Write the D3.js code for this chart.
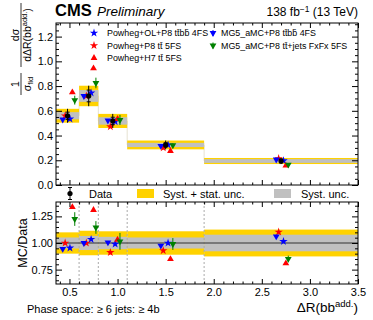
<!DOCTYPE html>
<html>
<head>
<meta charset="utf-8">
<script src="https://cdn.jsdelivr.net/npm/d3@7"></script>
<style>
  body { margin: 0; background: #fff; }
  svg { display: block; font-family: "Liberation Sans", Arial, Helvetica, sans-serif; }
</style>
</head>
<body>
<svg id="chart" width="373" height="320"></svg>
<script>
// bins of Delta R(bb add.)
const binEdges = [0.36, 0.6, 0.8, 1.1, 1.9, 3.5];
const binCenters = [0.48, 0.7, 0.95, 1.5, 2.7];
// measured normalised cross section
const dataVals = [0.56, 0.72, 0.518, 0.324, 0.194];
// relative uncertainties
const relTotUnc = [0.10, 0.115, 0.11, 0.11, 0.126];
const relSystUnc = [0.052, 0.066, 0.058, 0.052, 0.078];
// predictions
const mcOLttbb = [0.534, 0.745, 0.513, 0.324, 0.197];
const mcP8tt = [0.56, 0.72, 0.472, 0.301, 0.214];
const mcH7tt = [0.749, 0.943, 0.534, 0.275, 0.157];
const mcMGttbb = [0.529, 0.72, 0.521, 0.316, 0.206];
const mcMGttbbErr = [0.006, 0.01, 0.006, 0.004, 0.003];
const mcFxFx = [0.686, 0.825, 0.526, 0.321, 0.165];
const mcFxFxErr = [0.036, 0.043, 0.041, 0.018, 0.006];
// tick labels
const yTicks = [0, 0.2, 0.4, 0.6, 0.8, 1.0, 1.2];
const rTicks = [0.75, 1.0, 1.25];
const xTicks = [0.5, 1.0, 1.5, 2.0, 2.5, 3.0, 3.5];

const svg = d3.select("#chart");
const L = 56, R = 358, T = 23, MID = 185, RT = 202, B = 284;

const x = d3.scaleLinear().domain([0.36, 3.5]).range([L, R]);
const y = d3.scaleLinear().domain([0, 1.31]).range([MID, T]);
const yr = d3.scaleLinear().domain([0.615, 1.385]).range([B, RT]);

const YELLOW = "#ffd200", GRAY = "#c0c0c0";

const series = [
  {name: "Powheg+OL+P8 tt\u0304bb\u0304 4FS", vals: mcOLttbb, color: "#0000ff", shape: d3.symbolStar, rot: 0, off: 0.025, size: 22},
  {name: "Powheg+P8 tt\u0304 5FS", vals: mcP8tt, color: "#ff0000", shape: d3.symbolStar, rot: 0, off: -0.025, size: 22},
  {name: "Powheg+H7 tt\u0304 5FS", vals: mcH7tt, color: "#ff0000", shape: d3.symbolTriangle, rot: 0, off: 0.05, size: 20},
  {name: "MG5_aMC+P8 tt\u0304bb\u0304 4FS", vals: mcMGttbb, err: mcMGttbbErr, color: "#0000ff", shape: d3.symbolTriangle, rot: 180, off: -0.05, size: 20},
  {name: "MG5_aMC+P8 tt\u0304+jets FxFx 5FS", vals: mcFxFx, err: mcFxFxErr, color: "#008000", shape: d3.symbolTriangle, rot: 180, off: 0.075, size: 20}
];

const bins = dataVals.map((v, i) => ({
  lo: binEdges[i], hi: binEdges[i + 1], c: binCenters[i], v: v,
  tot: relTotUnc[i], syst: relSystUnc[i]
}));

// ---------- top panel ----------
const upper = svg.append("g");

// light step outline
const stepPts = [];
bins.forEach(b => { stepPts.push([x(b.lo), y(b.v)]); stepPts.push([x(b.hi), y(b.v)]); });
upper.append("path")
  .attr("d", d3.line()(stepPts))
  .attr("fill", "none").attr("stroke", "#e6e2d2").attr("stroke-width", 1);

upper.selectAll(".tot").data(bins).enter().append("rect")
  .attr("x", d => x(d.lo)).attr("width", d => x(d.hi) - x(d.lo))
  .attr("y", d => y(d.v * (1 + d.tot))).attr("height", d => y(d.v * (1 - d.tot)) - y(d.v * (1 + d.tot)))
  .attr("fill", YELLOW);
upper.selectAll(".syst").data(bins).enter().append("rect")
  .attr("x", d => x(d.lo)).attr("width", d => x(d.hi) - x(d.lo))
  .attr("y", d => y(d.v * (1 + d.syst))).attr("height", d => y(d.v * (1 - d.syst)) - y(d.v * (1 + d.syst)))
  .attr("fill", GRAY);

function drawMarkers(g, yScale, ratio) {
  series.forEach(s => {
    s.vals.forEach((v, i) => {
      const val = ratio ? v / dataVals[i] : v;
      const cx = x(binCenters[i] + s.off), cy = yScale(val);
      if (s.err) {
        const e = ratio ? s.err[i] / dataVals[i] : s.err[i];
        g.append("line").attr("x1", cx).attr("x2", cx)
          .attr("y1", yScale(val + e)).attr("y2", yScale(val - e))
          .attr("stroke", s.color).attr("stroke-width", 1);
      }
      g.append("path")
        .attr("d", d3.symbol().type(s.shape).size(s.size)())
        .attr("transform", `translate(${cx},${cy}) rotate(${s.rot})`)
        .attr("fill", s.color);
    });
  });
}
drawMarkers(upper, y, false);

// data points
const dp = upper.selectAll(".dp").data(bins).enter().append("g");
dp.append("line")
  .attr("x1", d => x(d.c)).attr("x2", d => x(d.c))
  .attr("y1", d => y(d.v * (1 + d.tot))).attr("y2", d => y(d.v * (1 - d.tot)))
  .attr("stroke", "#000").attr("stroke-width", 1);
[1, -1].forEach(sg => {
  dp.append("line")
    .attr("x1", d => x(d.c) - 2).attr("x2", d => x(d.c) + 2)
    .attr("y1", d => y(d.v * (1 + sg * d.syst))).attr("y2", d => y(d.v * (1 + sg * d.syst)))
    .attr("stroke", "#000").attr("stroke-width", 1);
});
dp.append("circle").attr("cx", d => x(d.c)).attr("cy", d => y(d.v)).attr("r", 2.6).attr("fill", "#000");

// ---------- ratio panel ----------
const rat = svg.append("g");
rat.selectAll(".tot").data(bins).enter().append("rect")
  .attr("x", d => x(d.lo)).attr("width", d => x(d.hi) - x(d.lo))
  .attr("y", d => yr(1 + d.tot)).attr("height", d => yr(1 - d.tot) - yr(1 + d.tot))
  .attr("fill", YELLOW);
rat.selectAll(".syst").data(bins).enter().append("rect")
  .attr("x", d => x(d.lo)).attr("width", d => x(d.hi) - x(d.lo))
  .attr("y", d => yr(1 + d.syst)).attr("height", d => yr(1 - d.syst) - yr(1 + d.syst))
  .attr("fill", GRAY);
rat.selectAll(".edge").data(binEdges.slice(1, -1)).enter().append("line")
  .attr("x1", d => x(d)).attr("x2", d => x(d)).attr("y1", RT).attr("y2", B)
  .attr("stroke", "#aaa").attr("stroke-width", 1).attr("stroke-dasharray", "2,2");
rat.append("line").attr("x1", L).attr("x2", R).attr("y1", yr(1)).attr("y2", yr(1))
  .attr("stroke", "#333").attr("stroke-width", 1);
drawMarkers(rat, yr, true);

// ---------- axes ----------
function minorRange(a, b, step, majors) {
  return d3.range(a, b + 1e-9, step).map(v => +v.toFixed(3)).filter(v => !majors.some(m => Math.abs(m - v) < 1e-6));
}
const xMinor = minorRange(0.4, 3.5, 0.1, xTicks);
const yMinor = minorRange(0.05, 1.3, 0.05, yTicks);
const rMinor = minorRange(0.65, 1.35, 0.05, rTicks);

function addAxis(gen, tr, vals, size, fmt, pad) {
  const g = svg.append("g").attr("transform", tr)
    .call(gen.tickValues(vals).tickSize(size).tickSizeOuter(0).tickPadding(pad || 3).tickFormat(fmt || (() => "")));
  g.select(".domain").remove();
  g.selectAll("line").attr("stroke", "#000");
  g.selectAll("text").attr("font-size", 11).attr("fill", "#000").attr("font-family", null);
  return g;
}
// top panel
addAxis(d3.axisBottom(x), `translate(0,${MID})`, xTicks, -5);
addAxis(d3.axisBottom(x), `translate(0,${MID})`, xMinor, -2.5);
addAxis(d3.axisTop(x), `translate(0,${T})`, xTicks, -5);
addAxis(d3.axisTop(x), `translate(0,${T})`, xMinor, -2.5);
addAxis(d3.axisLeft(y), `translate(${L},0)`, yTicks, -6, d3.format(".1f"), 3);
addAxis(d3.axisLeft(y), `translate(${L},0)`, yMinor, -3);
addAxis(d3.axisRight(y), `translate(${R},0)`, yTicks, -6);
addAxis(d3.axisRight(y), `translate(${R},0)`, yMinor, -3);
// ratio panel
addAxis(d3.axisBottom(x), `translate(0,${B})`, xTicks, -5, d3.format(".1f"), 4);
addAxis(d3.axisBottom(x), `translate(0,${B})`, xMinor, -2.5);
addAxis(d3.axisTop(x), `translate(0,${RT})`, xTicks, -5);
addAxis(d3.axisTop(x), `translate(0,${RT})`, xMinor, -2.5);
addAxis(d3.axisLeft(yr), `translate(${L},0)`, rTicks, -6, d3.format(".2f"), 3);
addAxis(d3.axisLeft(yr), `translate(${L},0)`, rMinor, -3);
addAxis(d3.axisRight(yr), `translate(${R},0)`, rTicks, -6);
addAxis(d3.axisRight(yr), `translate(${R},0)`, rMinor, -3);

// frames
svg.append("rect").attr("x", L).attr("y", T).attr("width", R - L).attr("height", MID - T)
  .attr("fill", "none").attr("stroke", "#000").attr("stroke-width", 1);
svg.append("rect").attr("x", L).attr("y", RT).attr("width", R - L).attr("height", B - RT)
  .attr("fill", "none").attr("stroke", "#000").attr("stroke-width", 1);

// ---------- texts ----------
svg.append("text").attr("x", 55).attr("y", 16).attr("font-size", 16.5).attr("font-weight", "bold").text("CMS");
svg.append("text").attr("x", 97).attr("y", 16).attr("font-size", 13.5).attr("font-style", "italic").text("Preliminary");
const lumi = svg.append("text").attr("x", R).attr("y", 16).attr("font-size", 12).attr("text-anchor", "end");
lumi.append("tspan").text("138 fb");
lumi.append("tspan").attr("dy", -4.5).attr("font-size", 8.5).text("\u22121");
lumi.append("tspan").attr("dy", 4.5).text(" (13 TeV)");

// y label top panel (rotated fractions)
function frac(cx, cy, num, den, w) {
  const g = svg.append("g").attr("transform", `translate(${cx},${cy}) rotate(-90)`).attr("font-size", 10.5);
  g.append("line").attr("x1", -w / 2).attr("x2", w / 2).attr("y1", 0).attr("y2", 0).attr("stroke", "#000").attr("stroke-width", 0.8);
  num(g.append("text").attr("x", 0).attr("y", -2.5).attr("text-anchor", "middle"));
  den(g.append("text").attr("x", 0).attr("y", 9.5).attr("text-anchor", "middle"));
}
frac(21, 84, t => t.text("1"), t => {
  t.append("tspan").text("\u03c3");
  t.append("tspan").attr("dy", 2).attr("font-size", 7.5).text("fid");
}, 22);
frac(21, 35, t => t.text("d\u03c3"), t => {
  t.append("tspan").text("d\u0394R(bb");
  t.append("tspan").attr("dy", -4).attr("font-size", 7.5).text("add.");
  t.append("tspan").attr("dy", 4).text(")");
}, 64);

svg.append("text").attr("transform", `translate(27,${yr(1)}) rotate(-90)`)
  .attr("text-anchor", "middle").attr("font-size", 12.5).text("MC/Data");

const xl = svg.append("text").attr("x", R).attr("y", 312).attr("text-anchor", "end").attr("font-size", 13.5);
xl.append("tspan").text("\u0394R(bb");
xl.append("tspan").attr("dy", -5.5).attr("font-size", 9.5).text("add.");
xl.append("tspan").attr("dy", 5.5).text(")");

svg.append("text").attr("x", 27).attr("y", 313).attr("font-size", 11)
  .text("Phase space:  \u2265 6 jets:  \u2265 4b");

// ---------- legends ----------
const legPos = [[94, 33], [94, 45.5], [94, 58], [213, 33], [213, 45.5]];
const legTextDx = [13, 13, 13, 8, 8];
series.forEach((s, i) => {
  const [lx, ly] = legPos[i];
  if (s.err) {
    svg.append("line").attr("x1", lx).attr("x2", lx).attr("y1", ly - 3).attr("y2", ly + 3)
      .attr("stroke", s.color).attr("stroke-width", 1);
  }
  svg.append("path").attr("d", d3.symbol().type(s.shape).size(s.size)())
    .attr("transform", `translate(${lx},${ly}) rotate(${s.rot})`).attr("fill", s.color);
  svg.append("text").attr("x", lx + legTextDx[i]).attr("y", ly + 3.2).attr("font-size", 8.9).text(s.name);
});

// data / uncertainty legend
const ly2 = 193.5;
svg.append("line").attr("x1", 70).attr("x2", 70).attr("y1", ly2 - 6).attr("y2", ly2 + 6).attr("stroke", "#000");
svg.append("line").attr("x1", 68).attr("x2", 72).attr("y1", ly2 + 6).attr("y2", ly2 + 6).attr("stroke", "#000");
svg.append("line").attr("x1", 68).attr("x2", 72).attr("y1", ly2 - 6).attr("y2", ly2 - 6).attr("stroke", "#000");
svg.append("circle").attr("cx", 70).attr("cy", ly2).attr("r", 2.6).attr("fill", "#000");
svg.append("text").attr("x", 89).attr("y", ly2 + 4).attr("font-size", 11).text("Data");
svg.append("rect").attr("x", 137).attr("y", ly2 - 4.5).attr("width", 17).attr("height", 9).attr("fill", YELLOW);
svg.append("text").attr("x", 163).attr("y", ly2 + 4).attr("font-size", 11).text("Syst. + stat. unc.");
svg.append("rect").attr("x", 274).attr("y", ly2 - 4.5).attr("width", 17).attr("height", 9).attr("fill", GRAY);
svg.append("text").attr("x", 301).attr("y", ly2 + 4).attr("font-size", 11).text("Syst. unc.");
</script>
</body>
</html>
